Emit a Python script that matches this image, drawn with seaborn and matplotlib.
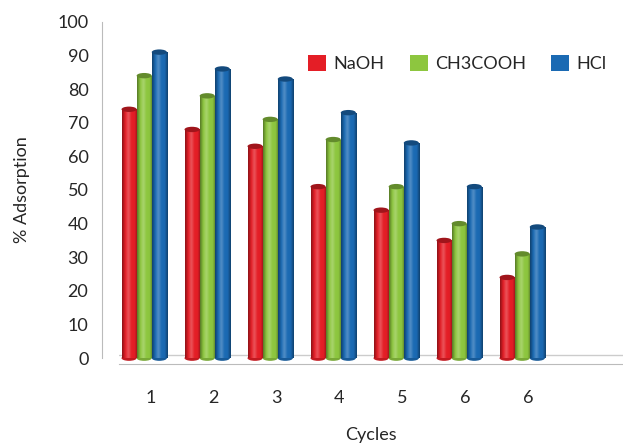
import numpy as np
import pandas as pd
import matplotlib
matplotlib.use("Agg")
import matplotlib.pyplot as plt
import seaborn as sns
from matplotlib.colors import LinearSegmentedColormap, to_rgb
from matplotlib.patches import Ellipse

cycles = ["c1", "c2", "c3", "c4", "c5", "c6", "c7", "c8"]
tick_labels = ["1", "2", "3", "4", "5", "6", "6", ""]
naoh = [74, 68, 63, 51, 44, 35, 24, np.nan]
ch3cooh = [84, 78, 71, 65, 51, 40, 31, np.nan]
hcl = [91, 86, 83, 73, 64, 51, 39, np.nan]
series = ["NaOH", "CH3COOH", "HCl"]
colors = ["#E41E26", "#8DC63F", "#1B6AB3"]

df = pd.DataFrame({
    "Cycle": cycles * 3,
    "Value": naoh + ch3cooh + hcl,
    "Series": [s for s in series for _ in cycles],
})

sns.set_style("white")
plt.rcParams["font.family"] = ["Lato", "DejaVu Sans"]

fig = plt.figure(figsize=(6.23, 4.46), dpi=100)
ax = fig.add_axes([0.191, 0.197, 0.809, 0.754])

sns.barplot(data=df, x="Cycle", y="Value", hue="Series", order=cycles,
            hue_order=series, palette=colors, width=0.72, gap=0.0,
            saturation=1, ax=ax, legend=True, linewidth=0)

def cyl_cmap(c):
    r, g, b = to_rgb(c)
    dark = (r * 0.6, g * 0.6, b * 0.6)
    light = tuple(min(1, x * 0.75 + 0.25) for x in (r, g, b))
    return LinearSegmentedColormap.from_list("cyl", [dark, (r, g, b), light, (r, g, b), (r, g, b), dark])

grad = np.linspace(0, 1, 64).reshape(1, -1)
for p in list(ax.patches):
    h = p.get_height()
    if not np.isfinite(h) or h <= 0:
        continue
    p.set_x(p.get_x() - 0.1)
    p.set_linewidth(0)
    x0, w = p.get_x(), p.get_width()
    fc = p.get_facecolor()
    im = ax.imshow(grad, extent=[x0, x0 + w, 0, h], aspect="auto",
                   cmap=cyl_cmap(fc), zorder=p.get_zorder() + 0.1, interpolation="bicubic")
    im.set_clip_path(p)
    r, g, b = to_rgb(fc)
    cap = Ellipse((x0 + w / 2, h), w, 1.6, facecolor=(r * 0.7, g * 0.7, b * 0.7),
                  edgecolor="none", zorder=p.get_zorder() + 0.2)
    ax.add_patch(cap)
    bot = Ellipse((x0 + w / 2, 0), w, 1.6, facecolor=(r * 0.85, g * 0.85, b * 0.85),
                  edgecolor="none", zorder=p.get_zorder() + 0.05, clip_on=False)
    ax.add_patch(bot)

ax.set_xlim(-0.5, 7.5)
ax.set_ylim(0, 100)
ax.set_yticks(range(0, 101, 10))
ax.set_xticks(range(8))
ax.set_xticklabels(tick_labels)
ax.set_xticks(np.arange(-0.5, 8, 1), minor=True)
ax.tick_params(axis="x", which="major", length=0, pad=19, labelsize=13)
ax.tick_params(axis="x", which="minor", length=8, width=1, color="#BBBBBB", direction="out")
ax.tick_params(axis="y", length=6, width=1, color="#BBBBBB", direction="out", labelsize=13, pad=4)

for s in ["top", "right"]:
    ax.spines[s].set_visible(False)
ax.spines["left"].set_position(("outward", 12))
ax.spines["left"].set_color("#BBBBBB")
ax.spines["bottom"].set_position(("outward", 4))
ax.spines["bottom"].set_color("#BBBBBB")
ax.axhline(0.8, color="#CCCCCC", lw=1, zorder=0)

ax.set_xlabel("Cycles", fontsize=13, labelpad=15)
ax.set_ylabel("% Adsorption", fontsize=13, labelpad=20)

leg = ax.legend(ncol=3, frameon=False, fontsize=13, loc="upper right",
                bbox_to_anchor=(1.0, 0.95), handlelength=1.0, handleheight=1.0,
                columnspacing=1.4, handletextpad=0.4)

fig.savefig("out.png", dpi=100)
